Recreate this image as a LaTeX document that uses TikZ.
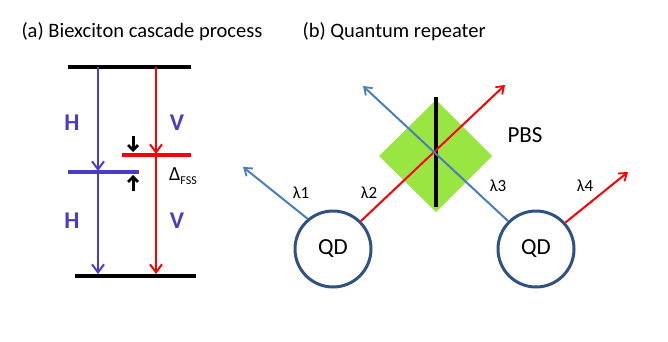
\documentclass[tikz,border=0pt]{standalone}
\usepackage{fontspec}
\setmainfont{Carlito}
\usetikzlibrary{arrows.meta}
\definecolor{lvblue}{RGB}{72,60,200}
\definecolor{lvred}{RGB}{255,0,0}
\definecolor{sblue}{RGB}{74,126,187}
\definecolor{qdblue}{RGB}{47,82,130}
\definecolor{pbsgreen}{RGB}{153,230,66}
\begin{document}
\begin{tikzpicture}[x=1pt,y=-1pt,
  title/.style={anchor=west,font=\fontsize{20.5}{24}\selectfont},
  level/.style={line width=4.5pt},
  trans/.style={line width=2.2pt,-{Straight Barb[length=8pt,width=12pt,line width=2pt]}},
  pol/.style={font=\fontsize{24}{28}\selectfont\bfseries},
  small/.style={line width=3pt,-{Straight Barb[length=5pt,width=10pt,line width=2.8pt]}},
  ray/.style={line width=2pt,-{Straight Barb[length=7pt,width=10pt,line width=1.8pt]}},
  qd/.style={circle,draw=qdblue,line width=3pt,minimum size=76pt,inner sep=0pt,font=\fontsize{23}{26}\selectfont},
  lam/.style={font=\fontsize{17}{20}\selectfont}]
\useasboundingbox (0,0) rectangle (668,342);
% titles
\node[title] (ta) at (18,32) {(a) Biexciton cascade process};
\node[title] (tb) at (299,32) {(b) Quantum repeater};
% energy levels
\coordinate (t1) at (68,67); \coordinate (t2) at (191,67);
\coordinate (b1) at (75,276); \coordinate (b2) at (196,276);
\coordinate (m1) at (68,172); \coordinate (m2) at (139,172);
\coordinate (r1) at (122,155); \coordinate (r2) at (191,155);
\draw[level] (t1) -- (t2);
\draw[level] (b1) -- (b2);
\draw[level,lvblue] (m1) -- (m2);
\draw[level,lvred] (r1) -- (r2);
\coordinate (hb0) at (98,67); \coordinate (hb1) at (98,171); \coordinate (hb2) at (98,274);
\coordinate (vr0) at (156,67); \coordinate (vr1) at (156,154); \coordinate (vr2) at (156,274);
\draw[trans,lvblue] (hb0) -- (hb1);
\draw[trans,lvblue] (hb1) -- (hb2);
\draw[trans,lvred] (vr0) -- (vr1);
\draw[trans,lvred] (vr1) -- (vr2);
\node[pol,text=lvblue] (h1) at (72,123) {H};
\node[pol,text=lvblue] (h2) at (72,221) {H};
\node[pol,text=lvblue] (v1) at (177,123) {V};
\node[pol,text=lvblue] (v2) at (177,221) {V};
\coordinate (s1a) at (133,136); \coordinate (s1b) at (133,152);
\coordinate (s2a) at (133,191); \coordinate (s2b) at (133,175);
\draw[small] (s1a) -- (s1b);
\draw[small] (s2a) -- (s2b);
\node[anchor=west,font=\fontsize{20}{24}\selectfont,inner sep=0pt] (fss) at (169,176) {Δ\raisebox{-0.4ex}{\fontsize{12}{14}\selectfont FSS}};
% quantum repeater
\fill[pbsgreen] (379,156) -- (436,100) -- (492,156) -- (436,212) -- cycle;
\coordinate (bs1) at (436,97); \coordinate (bs2) at (436,207);
\draw[line width=4.5pt] (bs1) -- (bs2);
\node[qd] (qd1) at (333,249) {QD};
\node[qd] (qd2) at (536,249) {QD};
\coordinate (e1) at (243,167);
\coordinate (e2) at (505,85);
\coordinate (e3) at (363,86);
\coordinate (e4) at (628,172);
\draw[ray,sblue] (qd1.130) -- (e1);
\draw[ray,lvred] (qd1.45) -- (e2);
\draw[ray,sblue] (qd2.135) -- (e3);
\draw[ray,lvred] (qd2.42) -- (e4);
\node[lam] (l1) at (301,193) {λ1};
\node[lam] (l2) at (369,193) {λ2};
\node[lam] (l3) at (498,186) {λ3};
\node[lam] (l4) at (585,186) {λ4};
\node[font=\fontsize{23}{26}\selectfont] (pbs) at (525,135) {PBS};
\end{tikzpicture}
\end{document}
